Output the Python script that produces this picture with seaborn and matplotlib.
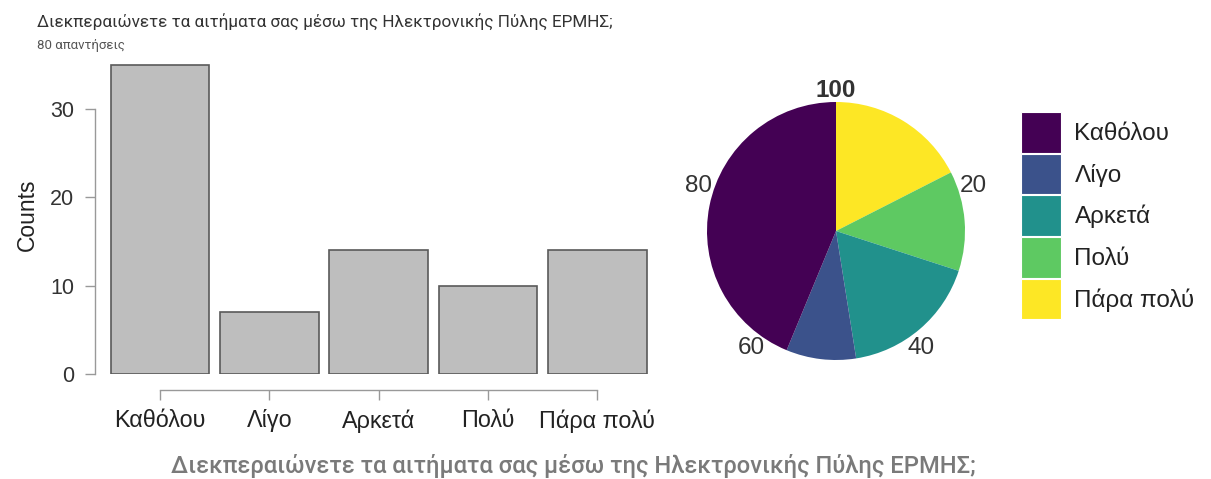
import matplotlib
matplotlib.use("Agg")
import matplotlib.pyplot as plt
from matplotlib.patches import Patch
import numpy as np
import pandas as pd
import seaborn as sns

# data
categories = ["Καθόλου", "Λίγο", "Αρκετά", "Πολύ", "Πάρα πολύ"]
counts = [35, 7, 14, 10, 14]
pie_ticks = [20, 40, 60, 80, 100]
question = "Διεκπεραιώνετε τα αιτήματα σας μέσω της Ηλεκτρονικής Πύλης ΕΡΜΗΣ;"
n_answers = "80 απαντήσεις"

df = pd.DataFrame({"cat": categories, "n": counts})
colors = [plt.cm.viridis(v) for v in np.linspace(0, 1, len(categories))]

sns.set_style("ticks")
plt.rcParams['font.family'] = ['Liberation Sans', 'DejaVu Sans']

W, H = 1211, 479
fig = plt.figure(figsize=(W / 100, H / 100), dpi=100)

# bar chart
ax = fig.add_axes([95 / W, (H - 374) / H, 557 / W, 318 / H])
sns.barplot(data=df, x="cat", y="n", color="#bebebe", edgecolor="#5a5a5a",
            linewidth=1.2, width=0.9, saturation=1, ax=ax)
ax.set_xlim(-0.595, 4.5)
ax.set_ylim(0, 36)
ax.set_yticks([0, 10, 20, 30])
ax.set_xlabel("")
ax.set_ylabel("Counts", fontsize=16.5, color="#222222", labelpad=8)
ax.tick_params(axis="both", colors="#999999", length=7, width=1,
               direction="out")
ax.tick_params(axis="x", labelsize=16.8, labelcolor="#222222", pad=7)
ax.tick_params(axis="y", labelsize=15.5, labelcolor="#333333", pad=8)
sns.despine(ax=ax, offset={"left": 0, "bottom": 11.5}, trim=True)
for s in ["left", "bottom"]:
    ax.spines[s].set_color("#999999")
    ax.spines[s].set_linewidth(1)

# pie chart
R = 129
pax = fig.add_axes([(836 - R) / W, (H - 231 - R) / H, 2 * R / W, 2 * R / H])
order = categories[::-1]
vals = [counts[categories.index(c)] for c in order]
cols = [colors[categories.index(c)] for c in order]
pax.pie(vals, colors=cols, startangle=90, counterclock=False, radius=1,
        wedgeprops=dict(linewidth=0))
pax.set_xlim(-1, 1)
pax.set_ylim(-1, 1)
pax.set_aspect("equal")
for t in pie_ticks:
    ang = np.deg2rad(90 - 360 * t / 100)
    r = 1.09 if t == 100 else 1.12
    pax.text(r * np.cos(ang), r * np.sin(ang), str(t), ha="center", va="center",
             fontsize=17.5, color="#333333",
             fontweight="bold" if t == 100 else "normal", clip_on=False)

# legend
handles = [Patch(facecolor=c, edgecolor="white", linewidth=0.8) for c in colors]
fig.legend(handles, categories, loc="upper left",
           bbox_to_anchor=(1021 / W, 1 - 112 / H), frameon=False,
           fontsize=17.5, handlelength=1.65, handleheight=2.2, labelspacing=0.04,
           handletextpad=0.55, borderpad=0, borderaxespad=0,
           labelcolor="#222222")

# texts
fig.text(37 / W, 1 - 22 / H, question, fontsize=12.35, color="#333333",
         va="center", ha="left", family=["Roboto", "DejaVu Sans"])
fig.text(37 / W, 1 - 45 / H, n_answers, fontsize=9.5, color="#555555",
         va="center", ha="left", family=["Roboto", "DejaVu Sans"])
fig.text(573 / W, 1 - 466 / H, question, fontsize=17.1, color="#7a7a7a",
         va="center", ha="center", fontweight="medium",
         family=["Roboto", "DejaVu Sans"])

fig.savefig("out.png", dpi=100)
